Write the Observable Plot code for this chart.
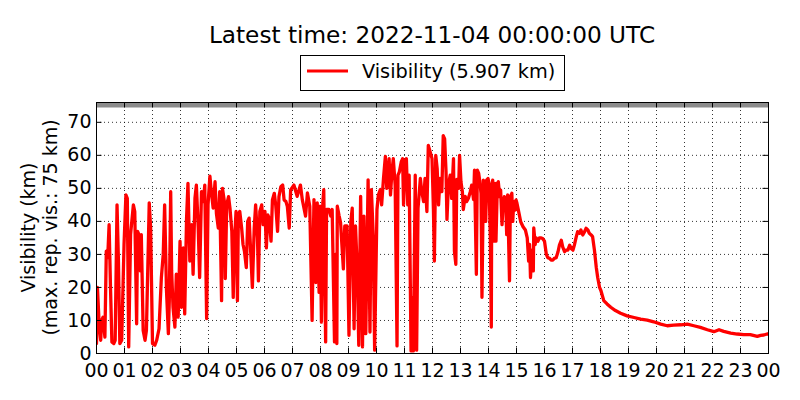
<!DOCTYPE html>
<html><head><meta charset="utf-8">
<script src="https://cdn.jsdelivr.net/npm/d3@7"></script>
<script src="https://cdn.jsdelivr.net/npm/@observablehq/plot@0.6"></script>
<style>html,body{margin:0;padding:0;background:#fff;} #chart{width:800px;height:400px;}</style>
</head><body><div id="chart"></div>
<script>
// ---- data: minutes after 2022-11-03 00:00 UTC and visibility (km) ----
const minA = [0,2,6,9,11,14,18,21,24,27,30,33,37,40,44,47,50,54,59,63,66,69,73,79,82,86,88,91,94,96,100,104,107,113,116,120,125,129,134,139,143,146,150,154,156,159,161,164,168,171,175,179,182,186,189,193,196,200,204,207,211,214,218,221,225,229,232,236,239,243,246,250,254,257,261,264,268];
const visA = [3,20,8,4,10,11,5,31,29,39,20,3.5,3,4,45,28,3,4,33,48,47,2,36,45,43,9,37,36,25,36,7,4,7,45.6,38,3,2.5,4,7.5,23,30,45,19,6,16,49,25,14,8,24,11,34,14,32,12,41,51.5,28,39,24,47,51,38,23,49,46,51,10.6,45,53.7,49,44,52,42.4,38,49,16];
const minB = [270,274,276,279,283,286,290,293,295,299,302,304,307,311,314,317,321,324,327,331,334,338,341,345,347,350,354,357,361,364,367,370,374,377,381,384,388,391,395,399,402,406,409,413,416];
const visB = [50,46,22.7,45,47.5,44,37,17,32,43,16,42,43,38,33,31,26,40,41,29,20,38,45,35,22,43,45,39,43,32,42,41,34,46.5,48.5,45,37,47.5,50.5,51,46.5,46,44.5,38,49.5];
const minC = [423,430,437,441,448,452,457,462,466,470,473,477,479,482,485,487,491,493,498,502,505,510,512,515,516,520,523,529,532,537,541,545,548,552,555,559,562,566,570,573,577,582,586,589,593,596];
const visC = [51,47.6,51,46.6,41.6,48.6,44.6,10,46.6,21.5,45.6,18.5,44.6,9.5,45.6,49.6,3.5,43.6,43.6,41.6,43.6,3.5,30,3,44.6,41.6,39.6,25.6,38.6,38.6,5.5,40,44,7.5,38.6,24.6,2.5,47.6,2,41.6,6,52.6,6.5,49.6,35.6,1];
const minD = [601,604,608,611,615,619,622,624,627,630,633,636,640,644,646,649,653,656,658,661,664,667,670,674,677,679,683,686,689,691,694,697,701,704,708,711,715,719,722,724,727,730,733,736,740,743,746,749,751,754,758,761,765,767,770,772,776,778,781,784,786,790,793,797,801,804,808];
const visD = [43.6,48,49.6,45,53,59.7,50,53,59,48,55,59,51,2.3,54,55,58,59,45,58,59,45,54,0.8,17,0.8,54,1,44,47.6,53,49,46,53,43,63,61,59,43.6,28,60,56,45,53,49,66,65,55,40.6,51,54,47,59,31,27,52.7,50,60,52,49,43.6,47.6,46,47,49,51,46.6];
const minE = [810,814,816,819,821,824,826,829,831,834,836,839,841,844,846,847,849,851,854,856,859,861,864,866,869,871,874,877,879,881,885,887,890,892,894,897,899,901,904,909,914,919,923,926,928,930,933,936,937,940,942,946,949,953,956,960,964,967,971,974,978,981,985,989,992,996,999,1003,1006,1010,1014,1017,1021,1024,1028,1031,1035,1038,1042,1046,1049,1053,1056,1060,1063,1067,1071,1074,1078,1081];
const visE = [55.5,24,55.5,54.5,52.5,48.5,17,52.5,49.5,40,52.5,53,51.5,35,8,50.5,52.5,34,51.5,34,51.5,52,47.5,49.5,39,44.4,47.5,45.5,36,48,22,47.5,48.5,40,46,43.4,46.5,45.5,43.4,39.9,38.4,37.4,35,28,33,23,31.3,25,38,33,35,34,35,35,34.8,34,30,29,28.8,28.3,28.3,28.8,29,30.8,32.8,34.3,32.3,30.8,31.3,31.3,32.8,31.8,31.3,32.8,35.3,36.9,36.4,37.4,35.9,36.9,37.9,37.4,36.4,35.9,35.4,31.3,26,23,20,19];
const minF = [1087,1094,1102,1112,1123,1137,1152,1166,1180,1194,1209,1223,1237,1252,1266,1280,1294,1309,1323,1334,1344,1359,1373,1387,1401,1416,1423,1430,1437,1440];
const visF = [16,15,14,13,12.2,11.4,10.9,10.4,10.1,9.6,8.9,8.4,8.6,8.7,8.9,8.4,7.9,7.2,6.6,7.2,6.7,6.2,5.9,5.7,5.7,5.2,5.5,5.6,5.9,5.907];

const yTicks = [0,10,20,30,40,50,60,70];
const maxRepVis = 75;
const titleText = "Latest time: 2022-11-04 00:00:00 UTC";

// ---- build ----
const minutes = [].concat(minA,minB,minC,minD,minE,minF);
const vis = [].concat(visA,visB,visC,visD,visE,visF);
const t0 = new Date(Date.UTC(2022,10,3));
const t1 = new Date(Date.UTC(2022,10,4));
const data = minutes.map((m,i)=>({t:new Date(+t0 + m*60000), v:vis[i]}));
const hourTicks = d3.utcHour.range(t0, new Date(+t1 + 1));
const lastVal = vis[vis.length-1];

const W=800, H=400, mL=96, mR=32, mT=102, mB=47;
const yMax = 76;
const tickPx = 5.5;
const yTickLen = yMax*tickPx/(H-mT-mB);
const xTickLen = (t1-t0)*tickPx/(W-mL-mR);
const font = "'DejaVu Sans', sans-serif";
const tickFont = 19;

const plot = Plot.plot({
  width:W, height:H, marginLeft:mL, marginRight:mR, marginTop:mT, marginBottom:mB,
  style:{fontFamily:font, fontSize:tickFont+"px", background:"#fff", color:"#000", overflow:"visible"},
  x:{type:"utc", domain:[t0,t1]},
  y:{domain:[0,yMax]},
  marks:[
    Plot.gridX(hourTicks,{stroke:"#000", strokeOpacity:1, strokeWidth:0.8, strokeDasharray:"1,3"}),
    Plot.gridY(yTicks,{stroke:"#000", strokeOpacity:1, strokeWidth:0.8, strokeDasharray:"1,3"}),
    Plot.ruleY([maxRepVis+0.2],{stroke:"#8c8c8c", strokeWidth:4.5}),
    Plot.line(data,{x:"t", y:"v", stroke:"#ff0000", strokeWidth:3.3, strokeLinejoin:"round", clip:true}),
    Plot.ruleX(hourTicks,{y1:0, y2:yTickLen, stroke:"#000"}),
    Plot.ruleX(hourTicks,{y1:yMax-yTickLen, y2:yMax, stroke:"#000"}),
    Plot.ruleY(yTicks,{x1:()=>t0, x2:()=>new Date(+t0+xTickLen), stroke:"#000"}),
    Plot.ruleY(yTicks,{x1:()=>new Date(+t1-xTickLen), x2:()=>t1, stroke:"#000"}),
    Plot.frame({stroke:"#000", strokeWidth:1}),
    Plot.axisX(hourTicks,{tickSize:0, tickPadding:10, tickFormat:d3.utcFormat("%H"), label:null, fontSize:tickFont}),
    Plot.axisY(yTicks,{tickSize:0, tickPadding:5, label:null, fontSize:tickFont})
  ]
});
document.getElementById("chart").appendChild(plot);

const svg = d3.select(plot);
const cx = mL + (W-mL-mR)/2;
const cy = mT + (H-mT-mB)/2;
svg.append("text").attr("x",cx).attr("y",42.5).attr("text-anchor","middle")
  .attr("font-family",font).attr("font-size",23.2).attr("fill","#000").text(titleText);

// legend
const lg = svg.append("g");
lg.append("rect").attr("x",300.5).attr("y",55.5).attr("width",264).attr("height",35)
  .attr("fill","#fff").attr("stroke","#000").attr("stroke-width",1);
lg.append("line").attr("x1",307).attr("x2",348).attr("y1",71).attr("y2",71)
  .attr("stroke","#ff0000").attr("stroke-width",3);
lg.append("text").attr("x",362).attr("y",78.3).attr("text-anchor","start").attr("font-family",font).attr("font-size",19.3)
  .attr("fill","#000").text(`Visibility (${lastVal.toFixed(3)} km)`);

// y label (two lines)
svg.append("text").attr("transform",`translate(35,${cy}) rotate(-90)`).attr("text-anchor","middle")
  .attr("font-family",font).attr("font-size",19).attr("fill","#000").text("Visibility (km)");
svg.append("text").attr("transform",`translate(57,${cy}) rotate(-90)`).attr("text-anchor","middle")
  .attr("font-family",font).attr("font-size",19).attr("fill","#000").text(`(max. rep. vis.: ${maxRepVis} km)`);
</script></body></html>
